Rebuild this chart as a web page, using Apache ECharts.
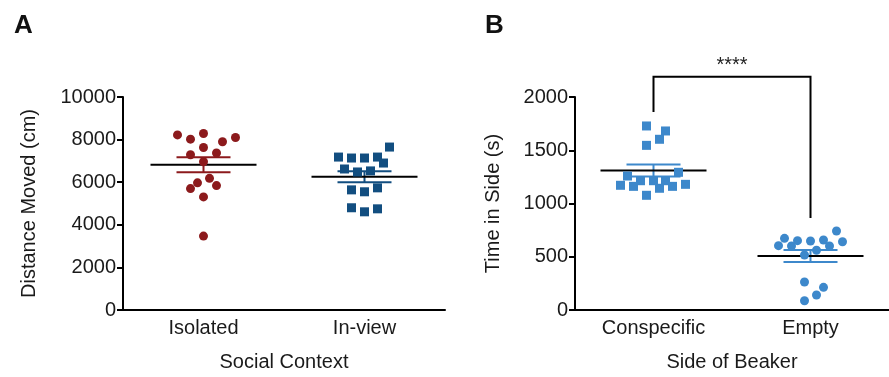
<!DOCTYPE html>
<html>
<head>
<meta charset="utf-8">
<script src="https://cdn.jsdelivr.net/npm/echarts@6/dist/echarts.min.js"></script>
<style>
html,body{margin:0;padding:0;background:#fff;}
#chart{width:889px;height:377px;}
</style>
</head>
<body>
<div id="chart"></div>
<script>
// ---------- data ----------
var contextCategories = ['Isolated', 'In-view'];
var sideCategories = ['Conspecific', 'Empty'];

var isolatedValues = [8220, 8020, 8285, 7900, 8100, 7630, 7290, 7370, 6960, 6180, 5970, 5700, 5840, 5310, 3470];
var inviewValues = [7650, 7180, 7135, 7135, 7180, 6900, 6620, 6480, 6530, 5640, 5550, 5735, 4800, 4610, 4750];
var conspecificValues = [1728, 1681, 1603, 1546, 1293, 1258, 1214, 1214, 1214, 1171, 1161, 1143, 1161, 1180, 1077];
var emptyValues = [742, 673, 604, 601, 651, 648, 657, 601, 641, 516, 561, 263, 213, 141, 87];

var distanceTicks = {min: 0, max: 10000, interval: 2000};
var timeTicks = {min: 0, max: 2000, interval: 500};

// significance bracket (data units): left foot, top, right foot
var bracketLevels = [1860, 2190, 865];
var significanceLabel = '****';

// horizontal scatter offsets (pixels) for the column layout
var isolatedJitter = [-26, -13, 0, 19, 32, 0, -13, 13, 0, 6, -6, -13, 13, 0, 0];
var inviewJitter = [25, -26, -13, 0, 13, 19, -20, -7, 6, -13, 0, 13, -13, 0, 13];
var conspecificJitter = [-7, 12, 6, -7, 25, -26, -13, 0, 12, -33, -20, 6, 19, 32, -7];
var emptyJitter = [26, -26, -32, -19, -13, 0, 13, 19, 32, -6, 6, -6, 13, 6, -6];

// ---------- helpers ----------
function meanSem(arr) {
  var n = arr.length, m = 0;
  arr.forEach(function (v) { m += v; });
  m /= n;
  var ss = 0;
  arr.forEach(function (v) { ss += (v - m) * (v - m); });
  var sd = Math.sqrt(ss / (n - 1));
  var sem = sd / Math.sqrt(n);
  return [m, m - sem, m + sem];
}
function pts(values, jitter, idx) {
  return values.map(function (v, i) {
    return {value: [idx, v], symbolOffset: [jitter[i], 0]};
  });
}

var RED = '#8c1a1c', DBLUE = '#124e80', LBLUE = '#3d88cb';
var FONT = 'Liberation Sans, Arial, Helvetica, sans-serif';
var TXT = '#1a1a1a';

function summarySeries(grid, stats, colors) {
  return {
    type: 'custom',
    xAxisIndex: grid, yAxisIndex: grid,
    clip: false,
    z: 3,
    data: stats.map(function (s, i) { return [i, s[0], s[1], s[2]]; }),
    encode: {x: 0, y: 1},
    renderItem: function (params, api) {
      var i = api.value(0);
      var pm = api.coord([i, api.value(1)]);
      var pl = api.coord([i, api.value(2)]);
      var ph = api.coord([i, api.value(3)]);
      var col = colors[params.dataIndex];
      var semStyle = {stroke: col, lineWidth: 2};
      return {
        type: 'group',
        children: [
          {type: 'line', shape: {x1: pl[0], y1: pl[1], x2: ph[0], y2: ph[1]}, style: semStyle},
          {type: 'line', shape: {x1: ph[0] - 27, y1: ph[1], x2: ph[0] + 27, y2: ph[1]}, style: semStyle},
          {type: 'line', shape: {x1: pl[0] - 27, y1: pl[1], x2: pl[0] + 27, y2: pl[1]}, style: semStyle},
          {type: 'line', shape: {x1: pm[0] - 53, y1: pm[1], x2: pm[0] + 53, y2: pm[1]}, style: {stroke: '#000', lineWidth: 2}}
        ]
      };
    }
  };
}

function xAxis(grid, cats, name) {
  return {
    type: 'category', gridIndex: grid, data: cats, boundaryGap: true,
    name: name, nameLocation: 'middle', nameGap: 42,
    nameTextStyle: {fontFamily: FONT, fontSize: 20, color: TXT},
    axisLine: {lineStyle: {color: '#000', width: 2}},
    axisTick: {alignWithLabel: true, length: 5, lineStyle: {color: '#000', width: 2}},
    axisLabel: {margin: 8, fontFamily: FONT, fontSize: 20, color: TXT},
    splitLine: {show: false}
  };
}
function yAxis(grid, ticks, name, gap) {
  return {
    type: 'value', gridIndex: grid, min: ticks.min, max: ticks.max, interval: ticks.interval,
    name: name, nameLocation: 'middle', nameGap: gap,
    nameTextStyle: {fontFamily: FONT, fontSize: 20, color: TXT},
    axisLine: {show: true, lineStyle: {color: '#000', width: 2}},
    axisTick: {show: true, length: 6, lineStyle: {color: '#000', width: 2}},
    axisLabel: {margin: 7, fontFamily: FONT, fontSize: 20, color: TXT,
                formatter: function (v) { return String(v); }},
    splitLine: {show: false}
  };
}

var statsA = [meanSem(isolatedValues), meanSem(inviewValues)];
var statsB = [meanSem(conspecificValues), meanSem(emptyValues)];

var chart = echarts.init(document.getElementById('chart'), null, {renderer: 'canvas'});
chart.setOption({
  animation: false,
  backgroundColor: '#fff',
  grid: [
    {left: 123, top: 97, width: 322, height: 213},
    {left: 575, top: 97, width: 320, height: 213}
  ],
  xAxis: [xAxis(0, contextCategories, 'Social Context'), xAxis(1, sideCategories, 'Side of Beaker')],
  yAxis: [yAxis(0, distanceTicks, 'Distance Moved (cm)', 84), yAxis(1, timeTicks, 'Time in Side (s)', 72)],
  graphic: [
    {type: 'text', left: 14, top: 13, style: {text: 'A', font: 'bold 26px ' + FONT, fill: '#111'}},
    {type: 'text', left: 485, top: 13, style: {text: 'B', font: 'bold 26px ' + FONT, fill: '#111'}}
  ],
  series: [
    summarySeries(0, statsA, [RED, DBLUE]),
    summarySeries(1, statsB, [LBLUE, LBLUE]),
    {type: 'scatter', xAxisIndex: 0, yAxisIndex: 0, symbol: 'circle', symbolSize: 9, z: 4,
     itemStyle: {color: RED, opacity: 1}, data: pts(isolatedValues, isolatedJitter, 0)},
    {type: 'scatter', xAxisIndex: 0, yAxisIndex: 0, symbol: 'rect', symbolSize: 9, z: 4,
     itemStyle: {color: DBLUE, opacity: 1}, data: pts(inviewValues, inviewJitter, 1)},
    {type: 'scatter', xAxisIndex: 1, yAxisIndex: 1, symbol: 'rect', symbolSize: 9, z: 4,
     itemStyle: {color: LBLUE, opacity: 1}, data: pts(conspecificValues, conspecificJitter, 0)},
    {type: 'scatter', xAxisIndex: 1, yAxisIndex: 1, symbol: 'circle', symbolSize: 9, z: 4,
     itemStyle: {color: LBLUE, opacity: 1}, data: pts(emptyValues, emptyJitter, 1)},
    {
      type: 'custom', xAxisIndex: 1, yAxisIndex: 1, clip: false, z: 5,
      data: [[0, 1, bracketLevels[0], bracketLevels[1], bracketLevels[2]]],
      encode: {x: 0, y: 3},
      renderItem: function (params, api) {
        var a = api.coord([api.value(0), api.value(2)]);
        var t0 = api.coord([api.value(0), api.value(3)]);
        var t1 = api.coord([api.value(1), api.value(3)]);
        var b = api.coord([api.value(1), api.value(4)]);
        return {
          type: 'group',
          children: [
            {type: 'polyline', shape: {points: [a, t0, t1, b]},
             style: {stroke: '#000', lineWidth: 2, fill: null}},
            {type: 'text', style: {text: significanceLabel, x: (t0[0] + t1[0]) / 2, y: t0[1] - 1,
              align: 'center', verticalAlign: 'bottom', font: '20px ' + FONT, fill: '#222'}}
          ]
        };
      }
    }
  ]
});
</script>
</body>
</html>
